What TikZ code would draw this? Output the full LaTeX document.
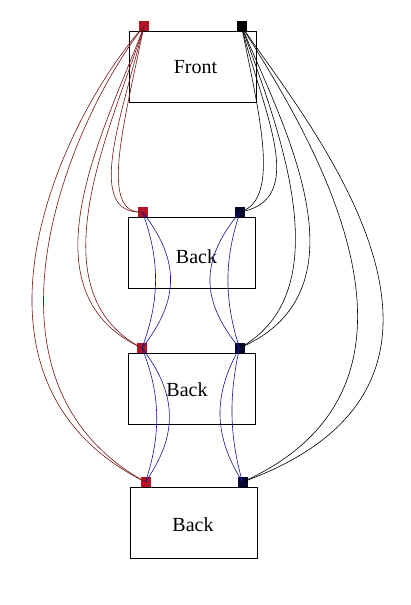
\documentclass[tikz,border=0pt]{standalone}
\usepackage{fontspec}
\setmainfont{Liberation Serif}
\definecolor{sqred}{RGB}{180,20,40}
\definecolor{sqnavy}{RGB}{5,5,45}
\definecolor{linered}{RGB}{120,20,20}
\definecolor{lineblue}{RGB}{20,20,150}
\begin{document}
\begin{tikzpicture}[x=1pt,y=-1pt,
  panel/.style={draw=black,line width=0.9pt,fill=white,minimum width=127pt,minimum height=71pt,inner sep=0pt},
  lbl/.style={font=\fontsize{20}{20}\selectfont,anchor=base,inner sep=0pt},
  sqr/.style={fill=sqred,draw=none,minimum size=10pt,inner sep=0pt},
  sqb/.style={fill=sqnavy,draw=none,minimum size=10pt,inner sep=0pt},
  sqk/.style={fill=black,draw=none,minimum size=10pt,inner sep=0pt},
  redc/.style={draw=linered,line width=0.6pt},
  bluec/.style={draw=lineblue,line width=0.6pt},
  blackc/.style={draw=black,line width=0.6pt}]
\useasboundingbox[fill=white] (0,0) rectangle (410,605);
% panels
\node[panel] (front) at (193,66.5) {};
\node[panel] (back1) at (192,252.5) {};
\node[panel] (back2) at (191.5,388.5) {};
\node[panel] (back3) at (194,522.5) {};
\node[lbl] (tf) at (195.5,73) {Front};
\node[lbl] (t1) at (196.5,263) {Back};
\node[lbl] (t2) at (187,396) {Back};
\node[lbl] (t3) at (193,531) {Back};
% squares
\node[sqr] (fr) at (144,26) {};
\node[sqk] (fk) at (241.5,26) {};
\node[sqr] (r1) at (142.5,212) {};
\node[sqb] (k1) at (240,212) {};
\node[sqr] (r2) at (142,348) {};
\node[sqb] (k2) at (239.5,348) {};
\node[sqr] (r3) at (145.5,482) {};
\node[sqb] (k3) at (242.5,482) {};
% red curves
\draw[redc] (fr.center) .. controls (120,120) and (85,215) .. (r1.center);
\draw[redc] (fr.center) .. controls (125,120) and (98,215) .. (r1.center);
\draw[redc] (fr.center) .. controls (110,120) and (15,290) .. (r2.center);
\draw[redc] (fr.center) .. controls (115,120) and (30,290) .. (r2.center);
\draw[redc] (fr.center) .. controls (60,120) and (-60,380) .. (r3.center);
\draw[redc] (fr.center) .. controls (70,120) and (-40,380) .. (r3.center);
% black curves
\draw[blackc] (fk.center) .. controls (258,110) and (282,200) .. (k1.center);
\draw[blackc] (fk.center) .. controls (262,110) and (310,200) .. (k1.center);
\draw[blackc] (fk.center) .. controls (275,120) and (345,290) .. (k2.center);
\draw[blackc] (fk.center) .. controls (280,120) and (375,290) .. (k2.center);
\draw[blackc] (fk.center) .. controls (300,120) and (470,380) .. (k3.center);
\draw[blackc] (fk.center) .. controls (305,120) and (525,380) .. (k3.center);
% blue curves left
\draw[bluec] (r1.center) .. controls (160,260) and (160,300) .. (r2.center);
\draw[bluec] (r1.center) .. controls (180,260) and (180,300) .. (r2.center);
\draw[bluec] (r2.center) .. controls (161,395) and (161,435) .. (r3.center);
\draw[bluec] (r2.center) .. controls (178,395) and (178,435) .. (r3.center);
% blue curves right
\draw[bluec] (k1.center) .. controls (200,260) and (200,300) .. (k2.center);
\draw[bluec] (k1.center) .. controls (224,260) and (224,300) .. (k2.center);
\draw[bluec] (k2.center) .. controls (213,395) and (213,435) .. (k3.center);
\draw[bluec] (k2.center) .. controls (229,395) and (229,435) .. (k3.center);
\end{tikzpicture}
\end{document}
